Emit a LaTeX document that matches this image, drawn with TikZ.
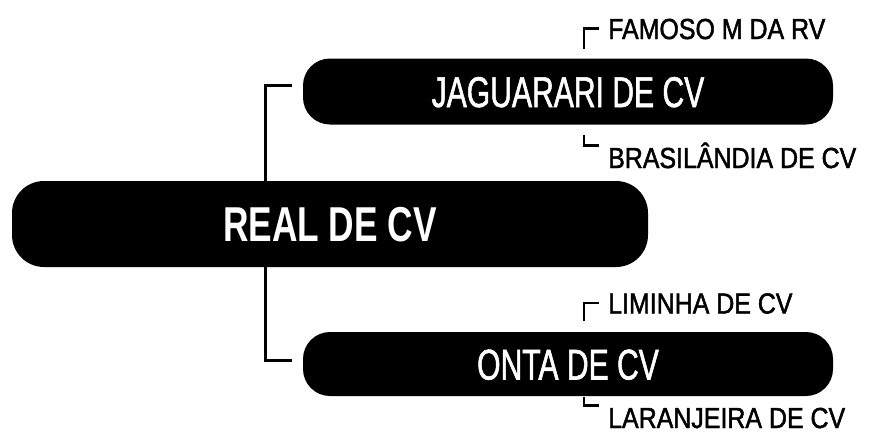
\documentclass[tikz,border=0pt]{standalone}
\usepackage{fontspec}
\usepackage{tikz}
\usetikzlibrary{positioning, calc}

\newfontfamily\boxfont[FakeStretch=0.70, FakeBold=1.2]{Liberation Sans}
\newfontfamily\rootfont[FakeStretch=0.72]{Liberation Sans}
\newfontfamily\leaffont[FakeStretch=0.86, FakeBold=1.6]{Liberation Sans}

\begin{document}
\begin{tikzpicture}[
  x=1pt, y=-1pt,
  pill/.style={rectangle, fill=black, text=white, rounded corners=27pt, inner sep=0pt,
    minimum width=530pt, minimum height=66pt, text height=31pt, text depth=0pt,
    font=\boxfont\fontsize{43}{43}\selectfont},
  rootpill/.style={pill, rounded corners=32pt, minimum width=636pt, minimum height=86pt,
    text height=35pt, font=\rootfont\bfseries\fontsize{49}{49}\selectfont},
  leaf/.style={inner sep=0pt, anchor=west, text height=21pt, text depth=0pt,
    font=\leaffont\fontsize{29}{29}\selectfont},
  link/.style={line width=3pt},
  tick/.style={line width=2.5pt},
]
  \useasboundingbox (0,0) rectangle (872,442);

  \node[rootpill] (real) at (330,224) {REAL DE CV};
  \node[pill] (jaguarari) at (568,91.5) {JAGUARARI DE CV};
  \node[pill, minimum height=64pt] (onta) at (568,364) {ONTA DE CV};

  \node[leaf] (famoso) at (608,28.5) {FAMOSO M DA RV};
  \node[leaf] (brasilandia) at (608,157.5) {BRASILÂNDIA DE CV};
  \node[leaf] (liminha) at (608,303) {LIMINHA DE CV};
  \node[leaf] (laranjeira) at (608,417.5) {LARANJEIRA DE CV};

  \coordinate (trunk) at (265,224);

  % branches from the root
  \draw[link] ([xshift=-11pt, yshift=6pt]jaguarari.west) -| (trunk |- real.north);
  \draw[link] (trunk |- real.south) |- ([xshift=-11pt, yshift=4pt]onta.west);

  % small corner marks
  \draw[tick] ([xshift=-24pt]famoso.west) ++(0,20) |- ++(15,-20);
  \draw[tick] ([xshift=-24pt, yshift=12pt]brasilandia.west) ++(0,-11) |- ++(15,11);
  \draw[tick] ([xshift=-24pt]liminha.west) ++(0,18) |- ++(15,-18);
  \draw[tick] ([xshift=-24pt, yshift=12pt]laranjeira.west) ++(0,-9) |- ++(15,9);
\end{tikzpicture}
\end{document}
